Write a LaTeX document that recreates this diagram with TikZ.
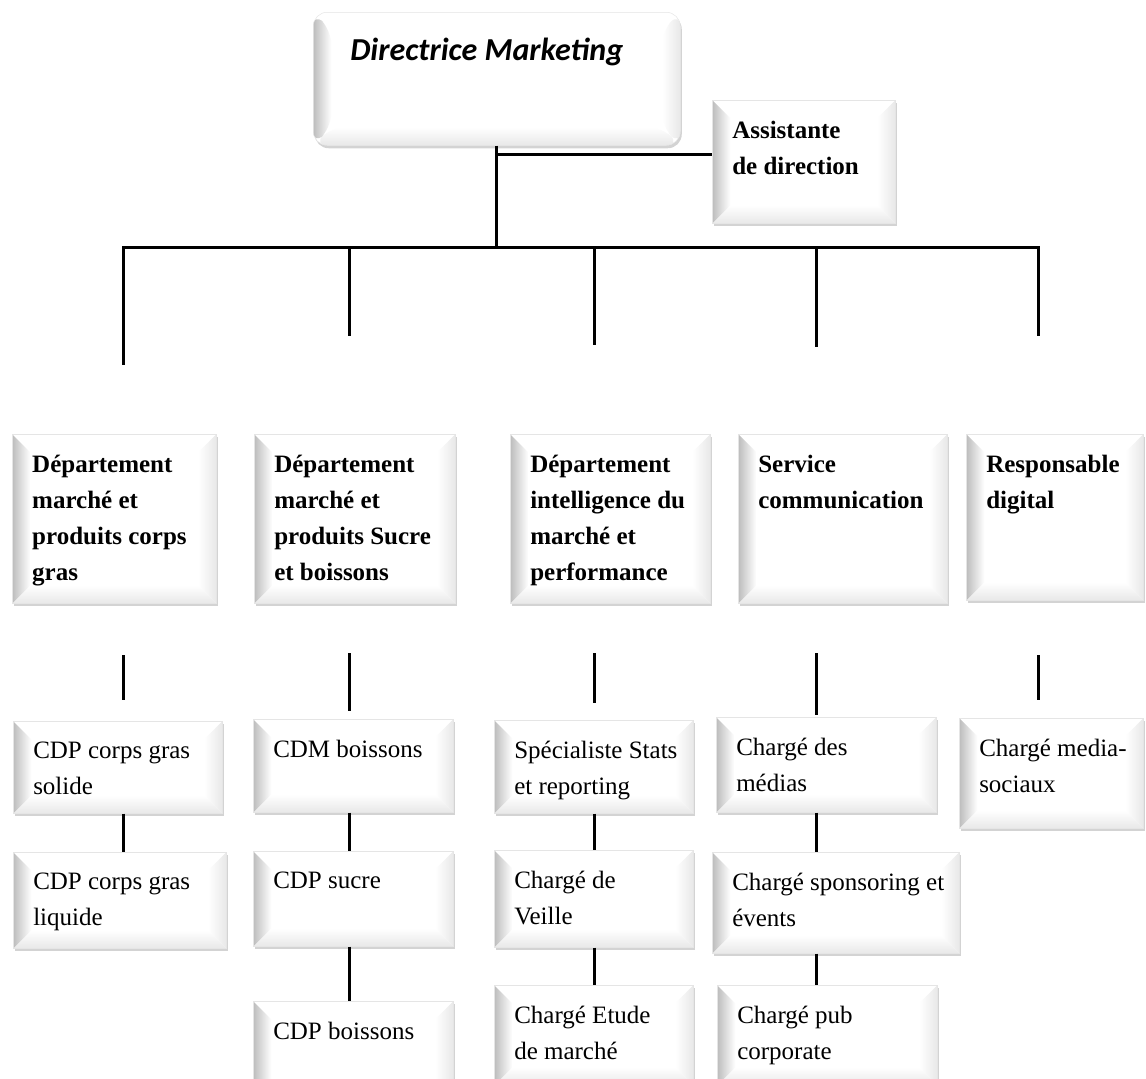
\documentclass[tikz,border=0pt]{standalone}
\usepackage{fontspec}
\setmainfont{Liberation Serif}
\newfontfamily\headfont{Carlito}
\usetikzlibrary{calc,shadows}

% text block of a box: full width, full height, then the lines
\newcommand{\celltext}[3]{\parbox[b][#2][t]{#1}{\vspace*{21pt}\leftskip=20pt
    \rightskip=0pt plus 1fil\parfillskip=0pt plus 1fil\hyphenpenalty=10000 #3}}

\tikzset{
    every picture/.style={x=1pt,y=-1pt},
    bevel/.style={fill=white,draw=black!10,line width=.5pt,
        drop shadow={shadow xshift=1.5pt,shadow yshift=-3pt,opacity=.35},
        path picture={
            \coordinate (pnw) at (path picture bounding box.north west);
            \coordinate (pne) at (path picture bounding box.north east);
            \coordinate (psw) at (path picture bounding box.south west);
            \coordinate (pse) at (path picture bounding box.south east);
            \shade[left color=white,right color=black!9] (pne) -- (pse) -- ($(pse)+(-18pt,18pt)$) -- ($(pne)+(-18pt,-18pt)$) -- cycle;
            \shade[top color=white,bottom color=black!9] (psw) -- (pse) -- ($(pse)+(-18pt,18pt)$) -- ($(psw)+(18pt,18pt)$) -- cycle;
            \shade[left color=black!26,right color=white] (pnw) -- (psw) -- ($(psw)+(18pt,18pt)$) -- ($(pnw)+(18pt,-18pt)$) -- cycle;
        }},
    unit/.style={bevel,anchor=north west,inner sep=0pt,
        font=\fontsize{25}{36}\selectfont},
    head/.style={unit,font=\bfseries\fontsize{25}{36}\selectfont},
    link/.style={line width=3pt},
}

\begin{document}
\begin{tikzpicture}
\useasboundingbox (0,0) rectangle (1146,1079);
\clip (0,0) rectangle (1146,1079);

% management
\node[unit,rounded corners=14pt,font=\headfont\bfseries\itshape\fontsize{32}{38}\selectfont] (dir) at (313,12) {\parbox[b][133pt][t]{367pt}{\vspace*{26pt}\leftskip=37pt Directrice Marketing}};
\node[head] (assist) at (712,100) {\celltext{183pt}{123pt}{Assistante\\de direction}};

% departments
\node[head] (dep1) at (12,434) {\celltext{204pt}{169pt}{Département\\marché et\\produits corps\\gras}};
\node[head] (dep2) at (254,434) {\celltext{201pt}{169pt}{Département\\marché et\\produits Sucre\\et boissons}};
\node[head] (dep3) at (510,434) {\celltext{200pt}{169pt}{Département\\intelligence du\\marché et\\performance}};
\node[head] (dep4) at (738,434) {\celltext{209pt}{169pt}{Service\\communication}};
\node[head] (dep5) at (966,434) {\celltext{177pt}{166pt}{Responsable\\digital}};

% staff under each department
\node[unit] (s1) at (13,721) {\celltext{209pt}{92pt}{CDP corps gras\\solide}};
\node[unit] (s2) at (13,852) {\celltext{213pt}{96pt}{CDP corps gras\\liquide}};

\node[unit] (c1) at (253,719) {\celltext{200pt}{93pt}{CDM boissons}};
\node[unit] (c2) at (253,851) {\celltext{200pt}{95pt}{CDP sucre}};
\node[unit] (c3) at (253,1001) {\celltext{200pt}{100pt}{CDP boissons}};

\node[unit] (p1) at (494,720) {\celltext{199pt}{93pt}{Spécialiste Stats\\et reporting}};
\node[unit] (p2) at (494,850) {\celltext{199pt}{97pt}{Chargé de\\Veille}};
\node[unit] (p3) at (494,985) {\celltext{199pt}{100pt}{Chargé Etude\\de marché}};

\node[unit] (m1) at (716,717) {\celltext{220pt}{95pt}{Chargé des\\médias}};
\node[unit] (m2) at (712,852) {\celltext{247pt}{101pt}{Chargé sponsoring et\\évents}};
\node[unit] (m3) at (717,985) {\celltext{220pt}{100pt}{Chargé pub\\corporate}};

\node[unit] (r1) at (959,718) {\celltext{184pt}{110pt}{Chargé media-\\sociaux}};

% links
\coordinate (tee) at (496,154);
\draw[link] (dir.south) -- (dir.south |- 0,247);
\draw[link] (tee) -- (tee -| assist.west);
\draw[link] (122,247) -- (1040,247);
\foreach \n/\x/\e in {1/123/365,2/349/336,3/594/345,4/816/347,5/1038/336}{
    \coordinate (top\n) at (\x,247);
    \coordinate (end\n) at (\x,\e);
    \draw[link] (top\n) -- (end\n);
}
\foreach \n/\a/\b in {1/655/700,2/653/711,3/653/703,4/653/715,5/655/700}{
    \coordinate (up\n) at (top\n |- 0,\a);
    \coordinate (dn\n) at (top\n |- 0,\b);
    \draw[link] (up\n) -- (dn\n);
}
\draw[link] (s1.south -| top1) -- (s2.north -| top1);
\draw[link] (c1.south -| top2) -- (c2.north -| top2);
\draw[link] (c2.south -| top2) -- (c3.north -| top2);
\draw[link] (p1.south -| top3) -- (p2.north -| top3);
\draw[link] (p2.south -| top3) -- (p3.north -| top3);
\draw[link] (m1.south -| top4) -- (m2.north -| top4);
\draw[link] (m2.south -| top4) -- (m3.north -| top4);
\end{tikzpicture}
\end{document}
